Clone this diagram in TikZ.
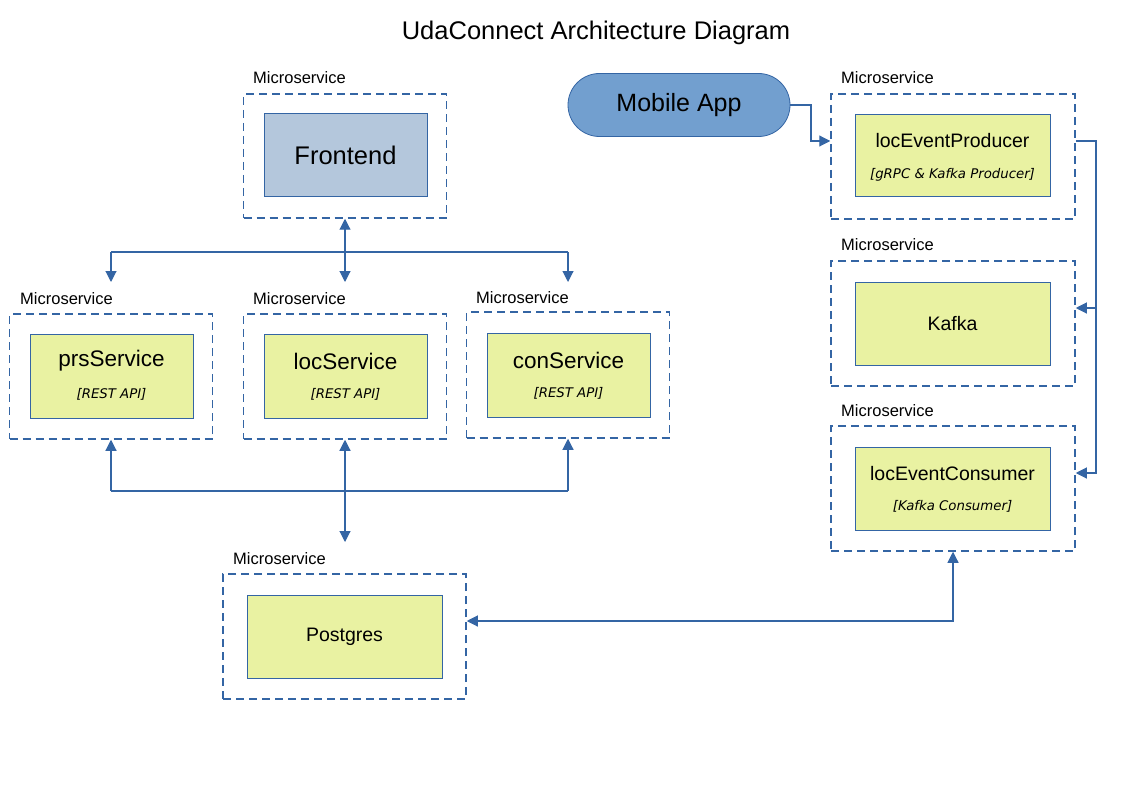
\documentclass[tikz,border=0pt]{standalone}
\usepackage{fontspec}
\setmainfont{Liberation Sans}
\newfontfamily\subf{DejaVu Sans}
\usetikzlibrary{arrows.meta,shapes.misc}
\definecolor{lineblue}{HTML}{3465A4}
\definecolor{boxyellow}{HTML}{E9F2A2}
\definecolor{feblue}{HTML}{B4C7DC}
\definecolor{mobblue}{HTML}{729FCF}
\tikzset{
  outerbox/.style={draw=lineblue, line width=1.5pt, dash pattern=on 8pt off 5pt, inner sep=0pt},
  innerbox/.style={draw=lineblue, line width=1pt, fill=boxyellow, inner sep=0pt},
  mslabel/.style={anchor=base west, inner sep=0pt, font=\fontsize{16.5}{18}\selectfont},
  conn/.style={draw=lineblue, line width=1.1pt},
  tip/.style={-{Triangle[length=11pt,width=11pt]}},
  tips/.style={{Triangle[length=11pt,width=11pt]}-{Triangle[length=11pt,width=11pt]}},
  bigtxt/.style={font=\fontsize{22.5}{24}\selectfont},
  midtxt/.style={font=\fontsize{19.5}{21}\selectfont},
  subtxt/.style={font=\subf\itshape\fontsize{13.3}{15}\selectfont}
}
\begin{document}
\begin{tikzpicture}[x=1pt,y=-1pt]
\useasboundingbox[fill=white] (0,0) rectangle (1123,794);
% title
\node[font=\fontsize{25.5}{28}\selectfont] (title) at (596,33) {UdaConnect Architecture Diagram};

% Frontend
\node[outerbox, minimum width=203pt, minimum height=124pt] (feo) at (345,156) {};
\node[draw=lineblue, line width=1pt, fill=feblue, inner sep=0pt, minimum width=163pt, minimum height=83pt, font=\fontsize{25.5}{28}\selectfont] (fe) at (345.5,155.5) {Frontend};
\node[mslabel] (felab) at (253,84) {Microservice};

% Mobile App
\node[draw=lineblue, line width=0.8pt, fill=mobblue, rounded rectangle, minimum width=222pt, minimum height=63pt, inner sep=0pt, font=\fontsize{25}{28}\selectfont] (mob) at (679,105) {Mobile App};

% prsService
\node[outerbox, minimum width=203pt, minimum height=125pt] (prso) at (111,376.5) {};
\node[innerbox, minimum width=163pt, minimum height=84pt] (prs) at (111.5,376) {};
\node[bigtxt] (prst) at (111.5,361) {prsService};
\node[subtxt] (prss) at (111.5,394.5) {[REST API]};
\node[mslabel] (prslab) at (20,304) {Microservice};

% locService
\node[outerbox, minimum width=203pt, minimum height=125pt] (loco) at (345,376.5) {};
\node[innerbox, minimum width=163pt, minimum height=84pt] (loc) at (345.5,376) {};
\node[bigtxt] (loct) at (345.5,361) {locService};
\node[subtxt] (locs) at (345.5,394.5) {[REST API]};
\node[mslabel] (loclab) at (253,304) {Microservice};

% conService
\node[outerbox, minimum width=203pt, minimum height=126pt] (cono) at (568,375) {};
\node[innerbox, minimum width=163pt, minimum height=84pt] (con) at (568.5,375) {};
\node[bigtxt] (cont) at (568.5,360) {conService};
\node[subtxt] (cons) at (568.5,393.5) {[REST API]};
\node[mslabel] (conlab) at (476,303) {Microservice};

% Postgres
\node[outerbox, minimum width=243pt, minimum height=125pt] (pgo) at (344.5,636.5) {};
\node[innerbox, minimum width=195pt, minimum height=83pt, midtxt] (pg) at (344.5,636.5) {Postgres};
\node[mslabel] (pglab) at (233,564) {Microservice};

% locEventProducer
\node[outerbox, minimum width=244pt, minimum height=125pt] (prodo) at (953,156.5) {};
\node[innerbox, minimum width=195pt, minimum height=82pt] (prod) at (952.5,156) {};
\node[font=\fontsize{19.5}{21}\selectfont] (prodt) at (952.5,141) {locEventProducer};
\node[subtxt] (prods) at (952.5,174.5) {[gRPC \& Kafka Producer]};
\node[mslabel] (prodlab) at (841,84) {Microservice};

% Kafka
\node[outerbox, minimum width=244pt, minimum height=125pt] (kafo) at (953,323.5) {};
\node[innerbox, minimum width=195pt, minimum height=83pt, midtxt] (kaf) at (952.5,323.5) {Kafka};
\node[mslabel] (kaflab) at (841,251) {Microservice};

% locEventConsumer
\node[outerbox, minimum width=244pt, minimum height=125pt] (conso) at (953,488.5) {};
\node[innerbox, minimum width=195pt, minimum height=83pt] (consm) at (952.5,488.5) {};
\node[font=\fontsize{19.5}{21}\selectfont] (const) at (952.5,474) {locEventConsumer};
\node[subtxt] (conss) at (952.5,506.5) {[Kafka Consumer]};
\node[mslabel] (conslab) at (841,416) {Microservice};

% connector coordinates
\coordinate (topbar) at (345,252);
\coordinate (fetip) at (345,282);
\coordinate (lefttop) at (111,252);
\coordinate (lefttip) at (111,282);
\coordinate (righttop) at (568,252);
\coordinate (righttip) at (568,282);
\coordinate (botleft) at (111,491);
\coordinate (botright) at (568,491);
\coordinate (pgtip) at (345,542);
\coordinate (mobbend) at (811,141);
\coordinate (kbus) at (1096,141);

% Frontend connectors
\draw[conn, tips] (feo.south) -- (fetip);
\draw[conn] (lefttop) -- (righttop);
\draw[conn, tip] (lefttop) -- (lefttip);
\draw[conn, tip] (righttop) -- (righttip);

% services to Postgres
\draw[conn, tip] (botleft) -- (prso.south);
\draw[conn, tip] (botright) -- (cono.south);
\draw[conn] (botleft) -- (botright);
\draw[conn, tips] (loco.south) -- (pgtip);

% Mobile App to producer
\draw[conn, tip] (mob.east) -| (mobbend) -- (prodo.west |- mobbend);

% producer to Kafka and consumer
\draw[conn, tip] (prodo.east |- kbus) -- (kbus) |- (conso.east |- 0,473);
\draw[conn, tip] (kbus |- 0,308) -- (kafo.east |- 0,308);

% consumer to Postgres
\draw[conn, tips] (conso.south) |- (pgo.east |- 0,621);
\end{tikzpicture}
\end{document}
